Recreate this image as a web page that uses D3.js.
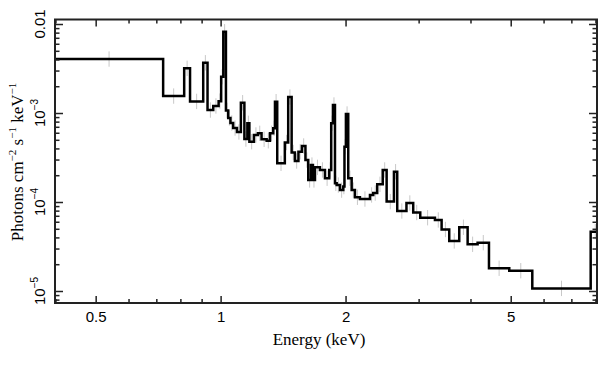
<!DOCTYPE html>
<html>
<head>
<meta charset="utf-8">
<script src="https://cdn.jsdelivr.net/npm/d3@7"></script>
<style>
  html, body { margin: 0; padding: 0; background: #fff; }
  svg { display: block; }
</style>
</head>
<body>
<svg id="chart" width="609" height="365"></svg>
<script>
// ---- Data ----
// Bin edges in keV (one more than the number of bins)
const binEdges = [0.399, 0.727, 0.817, 0.844, 0.908, 0.930, 0.960, 0.989, 1.003, 1.015,
  1.030, 1.043, 1.056, 1.072, 1.095, 1.119, 1.141, 1.160, 1.173, 1.203,
  1.230, 1.255, 1.291, 1.315, 1.339, 1.352, 1.369, 1.428, 1.455, 1.483,
  1.510, 1.540, 1.570, 1.601, 1.626, 1.651, 1.669, 1.688, 1.735, 1.784,
  1.827, 1.847, 1.865, 1.886, 1.904, 1.939, 1.975, 1.988, 2.004, 2.030,
  2.069, 2.107, 2.166, 2.290, 2.332, 2.384, 2.458, 2.512, 2.616, 2.664,
  2.804, 2.911, 3.027, 3.284, 3.408, 3.555, 3.758, 3.937, 4.161, 4.432,
  4.960, 5.636, 7.792, 8.20];
// Photons cm^-2 s^-1 keV^-1 per bin
const binFlux = [4.04e-3, 1.55e-3, 3.18e-3, 1.35e-3, 3.67e-3, 1.08e-3, 1.20e-3, 1.36e-3, 2.56e-3, 8.19e-3,
  1.07e-3, 8.79e-4, 7.72e-4, 6.78e-4, 6.12e-4, 1.305e-3, 5.10e-4, 7.66e-4, 4.76e-4, 5.66e-4,
  5.91e-4, 5.06e-4, 4.88e-4, 5.91e-4, 6.73e-4, 1.34e-3, 2.72e-4, 4.66e-4, 1.51e-3, 3.60e-4,
  2.89e-4, 3.67e-4, 4.26e-4, 2.96e-4, 1.77e-4, 2.60e-4, 1.77e-4, 2.45e-4, 2.29e-4, 1.85e-4,
  2.29e-4, 7.66e-4, 1.23e-3, 1.62e-4, 1.55e-4, 1.36e-4, 1.49e-4, 4.18e-4, 9.74e-4, 1.85e-4,
  1.36e-4, 1.13e-4, 1.08e-4, 1.20e-4, 1.26e-4, 1.58e-4, 2.29e-4, 1.01e-4, 2.19e-4, 7.92e-5,
  9.74e-5, 7.62e-5, 6.66e-5, 6.28e-5, 4.91e-5, 3.65e-5, 5.20e-5, 3.35e-5, 3.49e-5, 1.80e-5,
  1.69e-5, 1.07e-5, 4.64e-5];
const relErr = 0.22; // approximate fractional error of the grey error bars

const xMajorTicks = [0.5, 1, 2, 5];
const xMinorTicks = [0.4, 0.6, 0.7, 0.8, 0.9, 3, 4, 6, 7, 8];
const yMajorTicks = [1e-5, 1e-4, 1e-3, 1e-2];
const yMajorLabels = [["10", "\u22125"], ["10", "\u22124"], ["10", "\u22123"], ["0.01", null]];
const xDomain = [0.399, 8.07];
const yDomain = [7.33e-6, 0.01124];

// ---- Layout ----
const L = 55, R = 597, T = 19.5, B = 303;
const svg = d3.select("#chart");
const x = d3.scaleLog().domain(xDomain).range([L, R]);
const y = d3.scaleLog().domain(yDomain).range([B, T]);

const yMinor = [];
for (let e = -6; e <= -2; e++) for (let k = 2; k <= 9; k++) {
  const v = k * Math.pow(10, e);
  if (v >= yDomain[0] && v <= yDomain[1]) yMinor.push(v);
}

// clip
svg.append("defs").append("clipPath").attr("id", "clip")
  .append("rect").attr("x", L).attr("y", T).attr("width", R - L).attr("height", B - T);

const bins = binFlux.map((v, i) => ({lo: binEdges[i], hi: binEdges[i + 1], v}));

// error bars (grey crosses)
const eg = svg.append("g").attr("clip-path", "url(#clip)")
  .attr("stroke", "#c8c8c8").attr("stroke-width", 1).attr("fill", "none");
bins.forEach(b => {
  const xc = Math.sqrt(b.lo * b.hi);
  eg.append("line").attr("x1", x(xc)).attr("x2", x(xc))
    .attr("y1", y(b.v * (1 + relErr))).attr("y2", y(b.v / (1 + relErr)));
  eg.append("line").attr("x1", x(b.lo)).attr("x2", x(b.hi))
    .attr("y1", y(b.v)).attr("y2", y(b.v));
});

// step histogram
const pts = [];
bins.forEach(b => { pts.push([b.lo, b.v]); pts.push([b.hi, b.v]); });
const line = d3.line().x(d => x(d[0])).y(d => y(d[1]));
svg.append("path").attr("clip-path", "url(#clip)")
  .attr("d", line(pts)).attr("fill", "none")
  .attr("stroke", "#000").attr("stroke-width", 2.5).attr("stroke-linejoin", "miter");

// ---- Axes ----
const axColor = "#222";
function styleAxis(g) {
  g.select(".domain").remove();
  g.selectAll(".tick line").attr("stroke", axColor).attr("stroke-width", 1.5);
}
// bottom
const gxB = svg.append("g").attr("transform", `translate(0,${B})`)
  .call(d3.axisBottom(x).tickValues(xMajorTicks).tickSize(-7).tickPadding(8)
    .tickFormat(d3.format("")));
styleAxis(gxB);
gxB.selectAll("text").attr("font-family", "Liberation Sans, Arial, sans-serif")
  .attr("font-size", 15).attr("fill", "#000");
svg.append("g").attr("transform", `translate(0,${B})`)
  .call(d3.axisBottom(x).tickValues(xMinorTicks).tickSize(-4).tickFormat(""))
  .call(styleAxis);
// top
svg.append("g").attr("transform", `translate(0,${T})`)
  .call(d3.axisTop(x).tickValues(xMajorTicks).tickSize(-7).tickFormat("")).call(styleAxis);
svg.append("g").attr("transform", `translate(0,${T})`)
  .call(d3.axisTop(x).tickValues(xMinorTicks).tickSize(-4).tickFormat("")).call(styleAxis);
// left
svg.append("g").attr("transform", `translate(${L},0)`)
  .call(d3.axisLeft(y).tickValues(yMajorTicks).tickSize(-8).tickFormat("")).call(styleAxis);
svg.append("g").attr("transform", `translate(${L},0)`)
  .call(d3.axisLeft(y).tickValues(yMinor).tickSize(-4.5).tickFormat("")).call(styleAxis);
// right
svg.append("g").attr("transform", `translate(${R},0)`)
  .call(d3.axisRight(y).tickValues(yMajorTicks).tickSize(-8).tickFormat("")).call(styleAxis);
svg.append("g").attr("transform", `translate(${R},0)`)
  .call(d3.axisRight(y).tickValues(yMinor).tickSize(-4.5).tickFormat("")).call(styleAxis);

// frame
svg.append("rect").attr("x", L).attr("y", T).attr("width", R - L).attr("height", B - T)
  .attr("fill", "none").attr("stroke", axColor).attr("stroke-width", 2);

// y tick labels (rotated)
yMajorTicks.forEach((v, i) => {
  const [base, sup] = yMajorLabels[i];
  const t = svg.append("text")
    .attr("transform", `translate(45,${y(v)}) rotate(-90)`)
    .attr("text-anchor", "middle")
    .attr("font-family", "Liberation Sans, Arial, sans-serif")
    .attr("font-size", 15).attr("fill", "#000");
  t.append("tspan").text(base);
  if (sup) t.append("tspan").attr("font-size", 10).attr("dy", -7).text(sup);
});

// axis titles
svg.append("text").attr("x", 319).attr("y", 345).attr("text-anchor", "middle")
  .attr("font-family", "Liberation Serif, Times New Roman, serif").attr("font-size", 17)
  .attr("fill", "#000").text("Energy (keV)");

const yt = svg.append("text")
  .attr("transform", `translate(23,162) rotate(-90)`)
  .attr("text-anchor", "middle")
  .attr("font-family", "Liberation Serif, Times New Roman, serif").attr("font-size", 17)
  .attr("fill", "#000");
yt.append("tspan").text("Photons cm");
yt.append("tspan").attr("font-size", 11).attr("dy", -7).text("\u22122");
yt.append("tspan").attr("dy", 7).text(" s");
yt.append("tspan").attr("font-size", 11).attr("dy", -7).text("\u22121");
yt.append("tspan").attr("dy", 7).text(" keV");
yt.append("tspan").attr("font-size", 11).attr("dy", -7).text("\u22121");
</script>
</body>
</html>
